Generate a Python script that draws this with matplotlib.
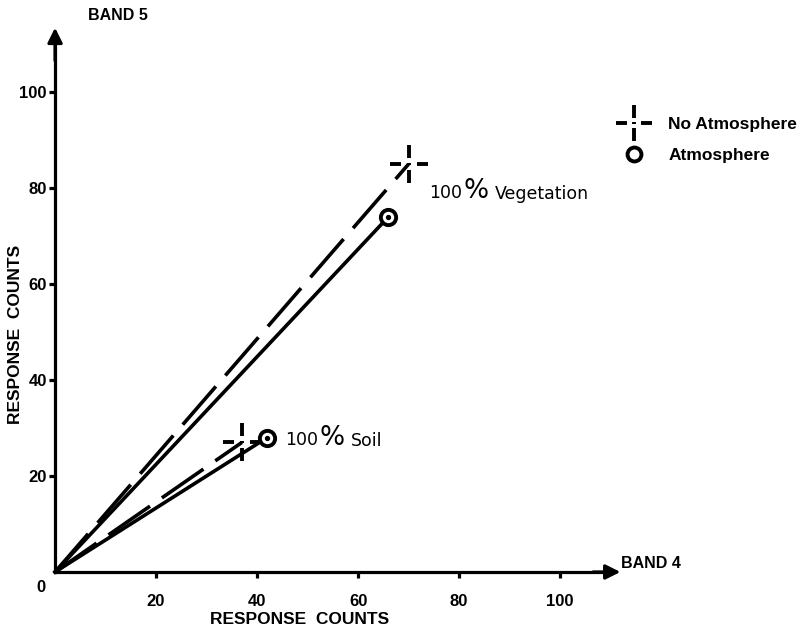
import numpy as np
import matplotlib.pyplot as plt
from matplotlib.path import Path
from matplotlib.lines import Line2D

# Endpoints (band 4, band 5 response counts)
targets = ["Vegetation", "Soil"]
no_atm_b4 = [70, 37]
no_atm_b5 = [85, 27]
atm_b4 = [66, 42]
atm_b5 = [74, 28]
label_pos = {"Vegetation": (74, 79), "Soil": (45.5, 27.5)}

xticks = [20, 40, 60, 80, 100]
yticks = [20, 40, 60, 80, 100]

plt.rcParams['font.family'] = ['Liberation Sans', 'DejaVu Sans']

# dashed-cross marker  -|-
verts = [(-1, 0), (-0.4, 0), (0.4, 0), (1, 0),
         (0, 0.3), (0, 1), (0, -0.3), (0, -1),
         (0, -0.05), (0, 0.05)]
codes = [Path.MOVETO, Path.LINETO] * 5
cross = Path(verts, codes)

fig = plt.figure(figsize=(8.04, 6.31), dpi=100)
ax = fig.add_axes([0, 0, 1, 1])
ax.set_xlim(-10.9, 148.3)
ax.set_ylim(-12.3, 119.2)

for side in ['top', 'right']:
    ax.spines[side].set_visible(False)
ax.spines['left'].set_position(('data', 0))
ax.spines['bottom'].set_position(('data', 0))
ax.spines['left'].set_bounds(0, 110)
ax.spines['bottom'].set_bounds(0, 109)
ax.spines['left'].set_linewidth(2.3)
ax.spines['bottom'].set_linewidth(2.3)

# arrowheads
ax.annotate('', xy=(112.5, 0), xytext=(106, 0),
            arrowprops=dict(arrowstyle='-|>', color='k', lw=2.3, mutation_scale=22))
ax.annotate('', xy=(0, 114), xytext=(0, 106),
            arrowprops=dict(arrowstyle='-|>', color='k', lw=2.3, mutation_scale=22))

ax.set_xticks(xticks)
ax.set_yticks(yticks)
ax.tick_params(axis='both', direction='out', length=4, width=2.3,
               labelsize=12)
ax.tick_params(axis='x', pad=12)
ax.tick_params(axis='y', pad=2)
for lab in ax.get_xticklabels() + ax.get_yticklabels():
    lab.set_fontweight('bold')

ax.text(-2.8, -3.3, '0', fontsize=12, fontweight='bold', ha='center', va='center')

# lines from the origin
for i, name in enumerate(targets):
    ax.plot([0, no_atm_b4[i]], [0, no_atm_b5[i]], color='k', lw=2.6,
            dashes=(14, 4), solid_capstyle='butt')
    ax.plot([0, atm_b4[i]], [0, atm_b5[i]], color='k', lw=2.6)

ax.plot(no_atm_b4, no_atm_b5, linestyle='none', marker=cross, markersize=28,
        markeredgewidth=2.8, color='k')
ax.plot(atm_b4, atm_b5, linestyle='none', marker='o', markersize=11,
        markeredgewidth=2.8, markerfacecolor='white', markeredgecolor='k')
ax.plot(atm_b4, atm_b5, linestyle='none', marker='o', markersize=2.8, color='k')

# "100 % name" labels with an oversized percent sign
for name in targets:
    x, y = label_pos[name]
    t1 = ax.text(x, y, '100', fontsize=12.5, ha='left', va='center',
                 family='DejaVu Sans')
    t2 = ax.annotate('%', xy=(1, 0.5), xycoords=t1, xytext=(1, 1.5),
                     textcoords='offset points', fontsize=19, ha='left',
                     va='center', family='DejaVu Sans')
    ax.annotate(name, xy=(1, 0.5), xycoords=t2, xytext=(5, -2),
                textcoords='offset points', fontsize=12.5, ha='left',
                va='center', family='DejaVu Sans')

# axis titles
ax.text(6.5, 116, 'BAND 5', fontsize=11.5, fontweight='bold', va='center')
ax.text(112, 1.8, 'BAND 4', fontsize=11.5, fontweight='bold', va='center')
ax.text(48.5, -10, 'RESPONSE  COUNTS', fontsize=12.5, fontweight='bold',
        ha='center', va='center')
ax.text(-7.9, 49.5, 'RESPONSE  COUNTS', fontsize=12.5, fontweight='bold',
        ha='center', va='center', rotation=90)

# legend
handles = [Line2D([], [], linestyle='none', marker=cross, markersize=26,
                  markeredgewidth=2.8, color='k'),
           Line2D([], [], linestyle='none', marker='o', markersize=10,
                  markeredgewidth=2.8, markerfacecolor='white', markeredgecolor='k')]
leg = ax.legend(handles, ['No Atmosphere', 'Atmosphere'], loc='upper left',
                bbox_to_anchor=(0.745, 0.84), frameon=False, handlelength=2.2,
                handletextpad=0.9, labelspacing=0.95,
                prop={'size': 12.5, 'weight': 'bold'})

fig.savefig('out.png', dpi=100)
